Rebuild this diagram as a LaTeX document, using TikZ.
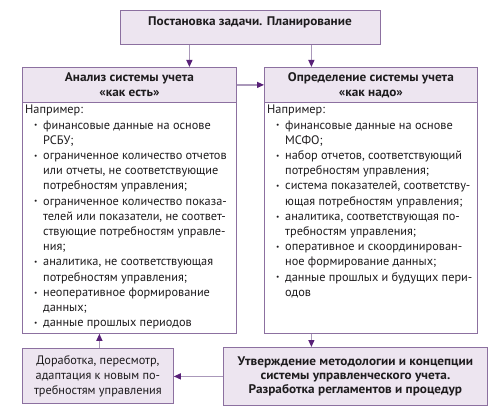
\documentclass[tikz,border=0pt]{standalone}
\usepackage{fontspec}
\setmainfont{PT Sans}
\newfontfamily\headfont{PT Sans}[FakeStretch=1.06]
\usetikzlibrary{arrows.meta}
\definecolor{boxfill}{RGB}{237,229,240}
\definecolor{boxline}{RGB}{140,112,160}
\definecolor{arrline}{RGB}{170,152,186}
\definecolor{arrhead}{RGB}{88,32,120}
\definecolor{txt}{RGB}{30,28,30}
\newcommand\bitem{\makebox[18pt][l]{\hspace{9pt}\raisebox{1.2pt}{\scalebox{0.6}{•}}}}
\newcommand\bcont{\hspace*{18pt}}
\begin{document}
\begin{tikzpicture}[x=1pt,y=-1pt,
  box/.style={draw=boxline, line width=0.8pt, fill=boxfill, inner sep=0pt, anchor=north west},
  bodybox/.style={draw=boxline, line width=0.8pt, fill=white, inner sep=0pt, anchor=north west},
  bodytext/.style={anchor=north west, align=left, inner sep=0pt, text=txt, font=\fontsize{12.3}{15.2}\selectfont},
  headtext/.style={align=center, text=txt, font=\headfont\bfseries\fontsize{12.5}{15}\selectfont},
  arr/.style={draw=arrline, line width=1.2pt, -{Triangle[length=7pt,width=6pt,color=arrhead]}}
]
\useasboundingbox (0,0) rectangle (492,412);
\fill[white] (0,0) rectangle (492,412);

\node[box, minimum width=260pt, minimum height=34pt] (top) at (120,10) {};
\node[headtext] (toptext) at (250,22) {Постановка задачи. Планирование};

\node[box, minimum width=214pt, minimum height=35pt, headtext, anchor=north west] (lefthead) at (22,67) {Анализ системы учета\\«как есть»};
\node[box, minimum width=213pt, minimum height=35pt, headtext, anchor=north west] (righthead) at (264,67) {Определение системы учета\\«как надо»};

\node[bodybox, minimum width=214pt, minimum height=231pt] (leftbody) at (22,102) {};
\node[bodybox, minimum width=213pt, minimum height=231pt] (rightbody) at (264,102) {};

\node[bodytext] (lefttext) at (25,105) {Например:\\
\bitem финансовые данные на основе\\
\bcont РСБУ;\\
\bitem ограниченное количество отчетов\\
\bcont или отчеты, не соответствующие\\
\bcont потребностям управления;\\
\bitem ограниченное количество показа-\\
\bcont телей или показатели, не соответ-\\
\bcont ствующие потребностям управле-\\
\bcont ния;\\
\bitem аналитика, не соответствующая\\
\bcont потребностям управления;\\
\bitem неоперативное формирование\\
\bcont данных;\\
\bitem данные прошлых периодов};

\node[bodytext] (righttext) at (267,105) {Например:\\
\bitem финансовые данные на основе\\
\bcont МСФО;\\
\bitem набор отчетов, соответствующий\\
\bcont потребностям управления;\\
\bitem система показателей, соответству-\\
\bcont ющая потребностям управления;\\
\bitem аналитика, соответствующая по-\\
\bcont требностям управления;\\
\bitem оперативное и скоординирован-\\
\bcont ное формирование данных;\\
\bitem данные прошлых и будущих пери-\\
\bcont одов};

\node[box, minimum width=151pt, minimum height=55pt, align=center, text=txt, font=\fontsize{12.3}{15}\selectfont] (botleft) at (22,348) {Доработка, пересмотр,\\адаптация к новым по-\\требностям управления};
\node[box, minimum width=264pt, minimum height=58pt, align=center, text=txt, font=\headfont\bfseries\fontsize{12.5}{13.8}\selectfont] (botright) at (223,347) {Утверждение методологии и концепции\\системы управленческого учета.\\Разработка регламентов и процедур};

\draw[arr] ([xshift=-61pt]top.south) -- ([xshift=-61pt]top.south |- lefthead.north);
\draw[arr] ([xshift=61pt]top.south) -- ([xshift=61pt]top.south |- righthead.north);
\draw[arr] (lefthead.east) -- (righthead.west);
\draw[arr] ([xshift=-59.5pt]rightbody.south) -- ([xshift=-59.5pt]rightbody.south |- botright.north);
\draw[arr] (botright.west) -- (botright.west -| botleft.east);
\draw[arr] ([xshift=1.5pt]botleft.north) -- ([xshift=1.5pt]botleft.north |- leftbody.south);
\end{tikzpicture}
\end{document}
